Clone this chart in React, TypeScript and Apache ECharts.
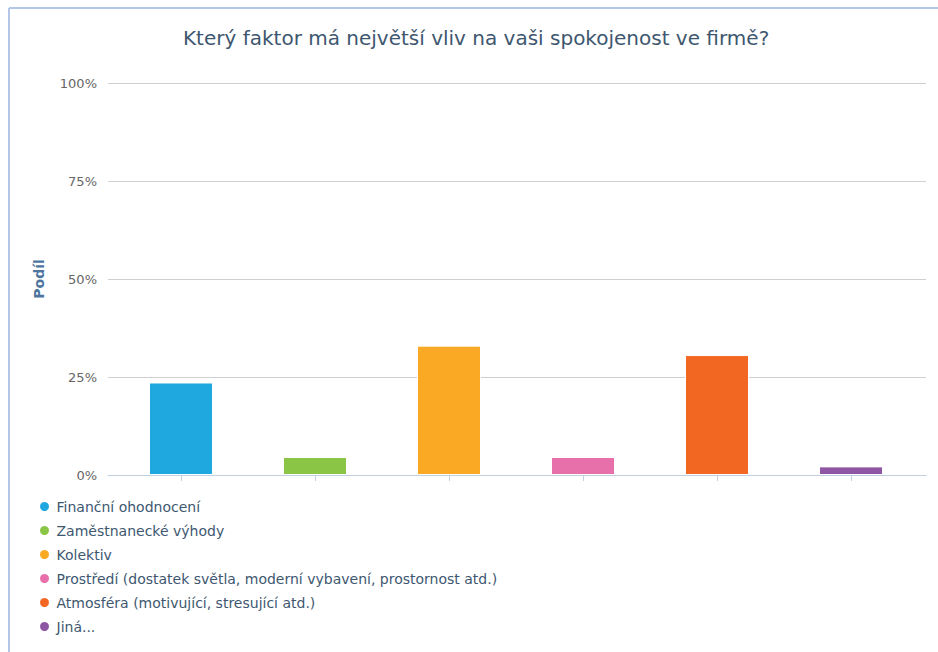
import React, { useEffect, useRef } from "react";
import * as echarts from "echarts";

const title = "Který faktor má největší vliv na vaši spokojenost ve firmě?";
const yAxisTitle = "Podíl";
const categories = [
  "Finanční ohodnocení",
  "Zaměstnanecké výhody",
  "Kolektiv",
  "Prostředí (dostatek světla, moderní vybavení, prostornost atd.)",
  "Atmosféra (motivující, stresující atd.)",
  "Jiná...",
];
const values = [23.6, 4.6, 33.0, 4.6, 30.6, 2.2];
const colors = ["#1fa8e0", "#8bc546", "#faa924", "#e76faa", "#f26822", "#8f56a3"];
const yMin = 0;
const yMax = 100;
const yStep = 25;

const FONT = "DejaVu Sans";

export default function App() {
  const ref = useRef<HTMLDivElement>(null);
  useEffect(() => {
    if (!ref.current) return;
    const chart = echarts.init(ref.current, undefined, { renderer: "svg" });
    const series = categories.map((name, i) => ({
      name,
      type: "bar",
      stack: "all",
      xAxisIndex: 0,
      yAxisIndex: 0,
      barWidth: 64,
      itemStyle: { color: colors[i], borderColor: "#ffffff", borderWidth: 1 },
      data: categories.map((_, j) => (j === i ? values[i] : "-")),
    }));
    chart.setOption({
      animation: false,
      backgroundColor: "#ffffff",
      textStyle: { fontFamily: FONT },
      title: {
        text: title,
        left: 178,
        top: 23,
        textStyle: { fontFamily: FONT, fontSize: 20, fontWeight: "normal", color: "#3e576f" },
      },
      graphic: [
        { type: "line", shape: { x1: 9, y1: 8, x2: 938, y2: 8 }, style: { stroke: "#b4c6e8", lineWidth: 2 } },
        { type: "line", shape: { x1: 9, y1: 8, x2: 9, y2: 652 }, style: { stroke: "#b4c6e8", lineWidth: 2 } },
      ],
      legend: {
        orient: "vertical",
        left: 38,
        top: 498,
        icon: "circle",
        itemWidth: 14,
        itemHeight: 11,
        itemGap: 7,
        padding: 0,
        data: categories,
        textStyle: { fontFamily: FONT, fontSize: 14, color: "#3e576f", lineHeight: 17 },
      },
      grid: [
        { left: 114, right: 20, top: 83, bottom: 177 },
        { left: 108, right: 12, top: 83, bottom: 177 },
      ],
      xAxis: [
        {
          type: "category",
          gridIndex: 0,
          data: categories,
          axisLine: { show: false },
          axisTick: { show: true, interval: 0, alignWithLabel: true, length: 6, lineStyle: { color: "#c0d0e0" } },
          axisLabel: { show: false, interval: 0 },
          splitLine: { show: false },
        },
        {
          type: "value",
          gridIndex: 1,
          min: 0,
          max: 1,
          axisLine: { show: true, lineStyle: { color: "#c0d0e0", width: 1 } },
          axisTick: { show: false },
          axisLabel: { show: false },
          splitLine: { show: false },
        },
      ],
      yAxis: [
        {
          type: "value",
          gridIndex: 0,
          min: yMin,
          max: yMax,
          interval: yStep,
          axisLine: { show: false },
          axisTick: { show: false },
          axisLabel: { show: false },
          splitLine: { show: false },
        },
        {
          type: "value",
          gridIndex: 1,
          min: yMin,
          max: yMax,
          interval: yStep,
          name: yAxisTitle,
          nameLocation: "middle",
          nameRotate: 90,
          nameGap: 62,
          nameTextStyle: { fontFamily: FONT, fontSize: 14, fontWeight: "bold", color: "#4d759e" },
          axisLine: { show: false },
          axisTick: { show: false },
          axisLabel: {
            formatter: "{value}%",
            color: "#666666",
            fontSize: 13,
            margin: 11,
            fontFamily: FONT,
          },
          splitLine: { show: true, lineStyle: { color: "#d0d0d0", width: 1 } },
          z: 0,
        },
      ],
      series,
    });
    return () => chart.dispose();
  }, []);
  return (
    <div style={{ position: "fixed", left: 0, top: 0, width: 938, height: 652 }}>
      <div ref={ref} style={{ width: 938, height: 652 }} />
    </div>
  );
}
